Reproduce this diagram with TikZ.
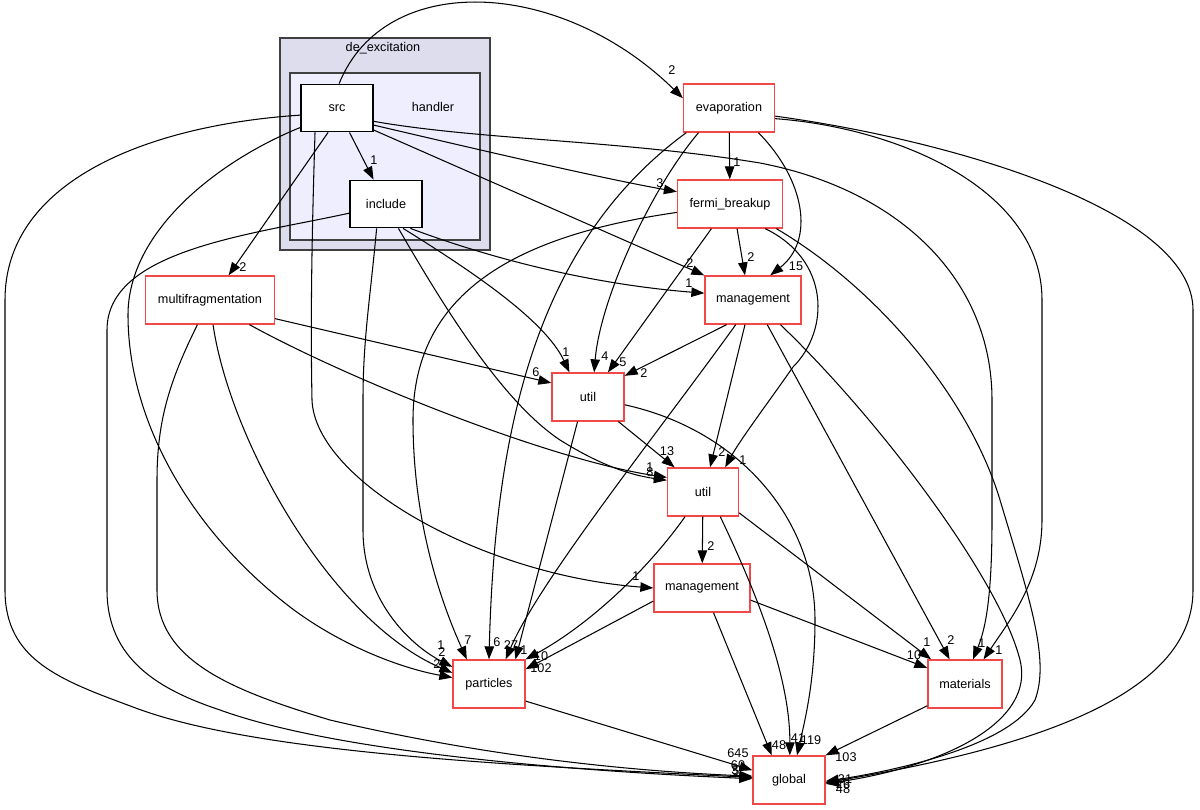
\documentclass[tikz,border=0pt]{standalone}
\usepackage{fontspec}
\setmainfont{Liberation Sans}
\usetikzlibrary{arrows.meta}
\definecolor{dirred}{HTML}{F24848}
\definecolor{cluout}{HTML}{DDDDEE}
\definecolor{cluin}{HTML}{EEEEFF}
\definecolor{cluedge}{HTML}{404040}
\tikzset{
  dirbox/.style={draw=dirred,line width=0.75pt,fill=white,minimum height=0.96cm,inner sep=2pt},
  localbox/.style={draw=black,line width=0.75pt,fill=white,minimum height=0.95cm,minimum width=1.44cm,inner sep=2pt},
  outerclu/.style={draw=cluedge,line width=0.75pt,fill=cluout},
  innerclu/.style={draw=cluedge,line width=0.75pt,fill=cluin},
  dep/.style={-{Triangle[length=2.6mm,width=1.9mm]},line width=0.6pt,draw=black},
  lbl/.style={inner sep=0pt}
}

\begin{document}
\begin{tikzpicture}[x=0.02cm,y=-0.02cm,every node/.style={font=\fontsize{7.2}{8.6}\selectfont}]
  \useasboundingbox (0,0) rectangle (1200,810);
  \draw[outerclu] (280,38) rectangle (490,250);
  \node (dexlbl) at (383,48) {de\_excitation};
  \draw[innerclu] (290,73) rectangle (480,240);
  \node (hdllbl) at (433,107) {handler};

  \node[localbox] (src) at (337,108) {src};
  \node[localbox] (incl) at (386,204) {include};
  \node[dirbox,minimum width=1.82cm] (evap) at (729,108) {evaporation};
  \node[dirbox,minimum width=2.1cm] (fermi) at (730,204) {fermi\_breakup};
  \node[dirbox,minimum width=1.92cm] (mgmtA) at (753,300) {management};
  \node[dirbox,minimum width=2.58cm] (multi) at (210,300) {multifragmentation};
  \node[dirbox,minimum width=1.44cm] (utilA) at (588,397) {util};
  \node[dirbox,minimum width=1.42cm] (utilB) at (703,492) {util};
  \node[dirbox,minimum width=1.92cm] (mgmtB) at (702,588) {management};
  \node[dirbox,minimum width=1.44cm] (particles) at (489,684) {particles};
  \node[dirbox,minimum width=1.48cm] (materials) at (965,684) {materials};
  \node[dirbox,minimum width=1.44cm] (global) at (789,780) {global};

  \draw[dep] (src.85) .. controls (385,-30) and (560,-22) .. (evap.168) node[lbl] (e1) at (672,70) {2};
  \draw[dep] (src) -- (incl) node[lbl] (e2) at (374,160) {1};
  \draw[dep] (src.-25) .. controls (480,150) and (600,178) .. (fermi.167) node[lbl] (e3) at (660,183) {3};
  \draw[dep] (src.-31) -- (mgmtA.north west) node[lbl] (e4) at (690,263) {2};
  \draw[dep] (src.-20) .. controls (480,140) and (620,140) .. (760,163) .. controls (900,190) and (992,280) .. (992,400) -- (992,520) .. controls (992,600) and (985,630) .. (materials.72) node[lbl] (e5) at (982,643) {1};
  \draw[dep] (src.-132) .. controls (313,200) and (310,300) .. (312,400) .. controls (315,480) and (480,575) .. (mgmtB.west) node[lbl] (e6) at (636,576) {1};
  \draw[dep] (src.-110) -- (multi.53) node[lbl] (e7) at (243,267) {2};
  \draw[dep] (src.-152) .. controls (220,160) and (128,230) .. (128,315) .. controls (128,420) and (190,530) .. (290,607) .. controls (340,645) and (400,668) .. (particles.170) node[lbl] (e8) at (437,664) {2};
  \draw[dep] (src.-169) .. controls (150,125) and (5,180) .. (5,300) -- (5,590) .. controls (5,660) and (60,680) .. (133,707) .. controls (250,752) and (500,765) .. (global.176) node[lbl] (e9) at (738,765) {60};

  \draw[dep] (incl.-166) .. controls (250,235) and (107,250) .. (107,330) -- (107,590) .. controls (107,660) and (160,690) .. (220,710) .. controls (330,750) and (550,770) .. (global.178) node[lbl] (e10) at (735,770) {3};
  \draw[dep] (incl.-111) .. controls (370,300) and (363,340) .. (363,400) -- (363,530) .. controls (363,600) and (410,645) .. (particles.155) node[lbl] (e11) at (441,645) {1};
  \draw[dep] (incl.-63) .. controls (440,300) and (500,400) .. (560,440) .. controls (600,465) and (630,475) .. (utilB.162) node[lbl] (e12) at (650,467) {1};
  \draw[dep] (incl.-55) .. controls (470,270) and (545,320) .. (utilA.127) node[lbl] (e13) at (566,352) {1};
  \draw[dep] (incl.-45) .. controls (500,262) and (600,285) .. (mgmtA.172) node[lbl] (e14) at (689,283) {1};

  \draw[dep] (multi.-16) -- (utilA.159) node[lbl] (e15) at (536,372) {6};
  \draw[dep] (multi.-32) .. controls (350,380) and (550,460) .. (utilB.158) node[lbl] (e16) at (650,472) {8};
  \draw[dep] (multi.-83) .. controls (230,440) and (330,620) .. (particles.163) node[lbl] (e17) at (442,652) {2};
  \draw[dep] (multi.-117) .. controls (170,380) and (157,420) .. (157,480) -- (157,590) .. controls (157,660) and (230,690) .. (330,720) .. controls (500,760) and (650,772) .. (global.174) node[lbl] (e18) at (736,771) {5};

  \draw[dep] (evap) -- (fermi) node[lbl] (e19) at (737,162) {1};
  \draw[dep] (evap.-40) .. controls (805,180) and (815,240) .. (mgmtA.55) node[lbl] (e20) at (796,266) {15};
  \draw[dep] (evap.-141) .. controls (650,190) and (600,300) .. (utilA.76) node[lbl] (e21) at (605,356) {4};
  \draw[dep] (evap.-150) .. controls (540,240) and (495,420) .. (particles.north) node[lbl] (e22) at (497,642) {6};
  \draw[dep] (evap.-13) .. controls (900,128) and (1042,190) .. (1042,300) -- (1042,520) .. controls (1042,580) and (1010,620) .. (materials.53) node[lbl] (e23) at (999,650) {1};
  \draw[dep] (evap.-10) .. controls (950,140) and (1193,210) .. (1193,310) -- (1193,590) .. controls (1193,690) and (1050,745) .. (global.-4) node[lbl] (e24) at (845,779) {31};

  \draw[dep] (fermi.-74) -- (mgmtA.108) node[lbl] (e25) at (751,257) {2};
  \draw[dep] (fermi.-127) -- (utilA.51) node[lbl] (e26) at (623,362) {5};
  \draw[dep] (fermi.-35) .. controls (830,260) and (830,330) .. (793,367) .. controls (770,400) and (740,440) .. (utilB.48) node[lbl] (e27) at (743,460) {1};
  \draw[dep] (fermi.-171) .. controls (520,235) and (413,290) .. (413,420) .. controls (413,520) and (440,600) .. (particles.132) node[lbl] (e28) at (468,640) {7};
  \draw[dep] (fermi.-28) .. controls (880,290) and (970,400) .. (1000,500) .. controls (1030,600) and (1050,660) .. (1035,700) .. controls (1010,745) and (900,770) .. (global.-2) node[lbl] (e29) at (843,784) {26};

  \draw[dep] (mgmtA.-137) -- (utilA.30) node[lbl] (e30) at (644,373) {2};
  \draw[dep] (mgmtA.-108) -- (utilB.74) node[lbl] (e31) at (722,452) {2};
  \draw[dep] (mgmtA.-125) .. controls (660,430) and (540,580) .. (particles.56) node[lbl] (e32) at (511,645) {27};
  \draw[dep] (mgmtA.-60) -- (materials.122) node[lbl] (e33) at (951,640) {2};
  \draw[dep] (mgmtA.-42) .. controls (880,420) and (1000,580) .. (1020,660) .. controls (1035,720) and (950,765) .. (global.-6) node[lbl] (e34) at (843,789) {48};

  \draw[dep] (utilA.-39) -- (utilB.139) node[lbl] (e35) at (667,451) {13};
  \draw[dep] (utilA.-113) -- (particles.43) node[lbl] (e36) at (524,650) {1};
  \draw[dep] (utilA.-12) .. controls (740,430) and (815,520) .. (815,620) .. controls (815,680) and (805,720) .. (global.72) node[lbl] (e37) at (811,740) {119};

  \draw[dep] (utilB) -- (mgmtB) node[lbl] (e38) at (711,546) {2};
  \draw[dep] (utilB.-126) .. controls (640,580) and (580,630) .. (particles.north east) node[lbl] (e39) at (541,656) {10};
  \draw[dep] (utilB.-55) .. controls (760,600) and (790,680) .. (global.88) node[lbl] (e40) at (798,738) {41};
  \draw[dep] (utilB.-30) -- (materials.144) node[lbl] (e41) at (927,642) {1};

  \draw[dep] (mgmtB.-165) -- (particles.22) node[lbl] (e42) at (541,668) {102};
  \draw[dep] (mgmtB.-65) -- (global.125) node[lbl] (e43) at (779,745) {48};
  \draw[dep] (mgmtB.-14) -- (materials.157) node[lbl] (e44) at (914,655) {10};

  \draw[dep] (particles.-25) -- (global.165) node[lbl] (e45) at (738,753) {645};
  \draw[dep] (materials.-150) -- (global.north east) node[lbl] (e46) at (846,757) {103};
\end{tikzpicture}
\end{document}
